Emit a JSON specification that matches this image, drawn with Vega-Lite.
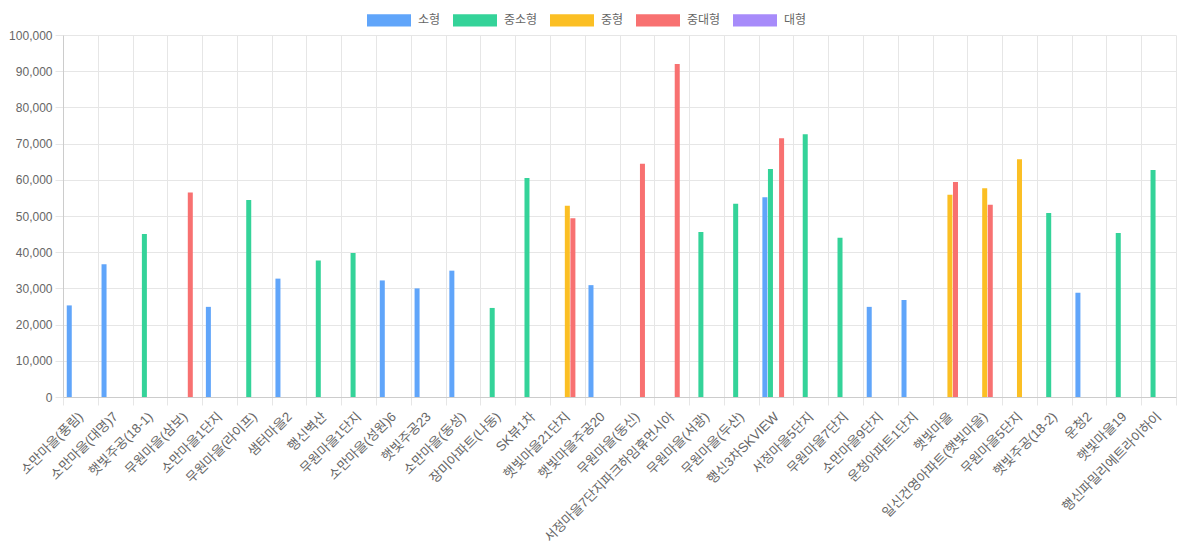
{
  "$schema": "https://vega.github.io/schema/vega-lite/v6.json",
  "width": 1113,
  "height": 362,
  "autosize": {"type": "none"},
  "padding": {"left": 63, "top": 35, "right": 1, "bottom": 153},
  "background": "white",
  "config": {
    "view": {"stroke": null},
    "font": "Liberation Sans, Noto Sans CJK KR, sans-serif",
    "axis": {
      "labelFont": "Liberation Sans, Noto Sans CJK KR, sans-serif",
      "labelFontSize": 12,
      "labelColor": "#666666",
      "gridColor": "#e6e6e6",
      "tickColor": "#e6e6e6",
      "domainColor": "#cccccc",
      "tickSize": 8,
      "title": null
    }
  },
  "data": {
    "values": [
      {"apt": "소만마을(풍림)", "type": "소형", "value": 25300},
      {"apt": "소만마을(대명)7", "type": "소형", "value": 36700},
      {"apt": "햇빛주공(18-1)", "type": "중소형", "value": 45000},
      {"apt": "무원마을(삼보)", "type": "중대형", "value": 56500},
      {"apt": "소만마을1단지", "type": "소형", "value": 24900},
      {"apt": "무원마을(라이프)", "type": "중소형", "value": 54400},
      {"apt": "샘터마을2", "type": "소형", "value": 32700},
      {"apt": "행신벽산", "type": "중소형", "value": 37700},
      {"apt": "무원마을1단지", "type": "중소형", "value": 39800},
      {"apt": "소만마을(성원)6", "type": "소형", "value": 32200},
      {"apt": "햇빛주공23", "type": "소형", "value": 30000},
      {"apt": "소만마을(동성)", "type": "소형", "value": 34900},
      {"apt": "장미아파트(나동)", "type": "중소형", "value": 24600},
      {"apt": "SK뷰1차", "type": "중소형", "value": 60500},
      {"apt": "햇빛마을21단지", "type": "중형", "value": 52800},
      {"apt": "햇빛마을21단지", "type": "중대형", "value": 49400},
      {"apt": "햇빛마을주공20", "type": "소형", "value": 30900},
      {"apt": "무원마을(동신)", "type": "중대형", "value": 64400},
      {"apt": "서정마을7단지파크하임휴먼시아", "type": "중대형", "value": 92000},
      {"apt": "무원마을(서광)", "type": "중소형", "value": 45600},
      {"apt": "무원마을(두산)", "type": "중소형", "value": 53400},
      {"apt": "행신3차SKVIEW", "type": "소형", "value": 55200},
      {"apt": "행신3차SKVIEW", "type": "중소형", "value": 63000},
      {"apt": "행신3차SKVIEW", "type": "중대형", "value": 71500},
      {"apt": "서정마을5단지", "type": "중소형", "value": 72600},
      {"apt": "무원마을7단지", "type": "중소형", "value": 44000},
      {"apt": "소만마을9단지", "type": "소형", "value": 24900},
      {"apt": "운청아파트1단지", "type": "소형", "value": 26800},
      {"apt": "햇빛마을", "type": "중형", "value": 55900},
      {"apt": "햇빛마을", "type": "중대형", "value": 59400},
      {"apt": "일신건영아파트(햇빛마을)", "type": "중형", "value": 57700},
      {"apt": "일신건영아파트(햇빛마을)", "type": "중대형", "value": 53100},
      {"apt": "무원마을5단지", "type": "중형", "value": 65700},
      {"apt": "햇빛주공(18-2)", "type": "중소형", "value": 50800},
      {"apt": "운청2", "type": "소형", "value": 28800},
      {"apt": "햇빛마을19", "type": "중소형", "value": 45300},
      {"apt": "행신파밀리에트라이하이", "type": "중소형", "value": 62700}
    ]
  },
  "mark": {"type": "bar"},
  "encoding": {
    "x": {
      "field": "apt",
      "type": "nominal",
      "sort": null,
      "scale": {"paddingInner": 0, "paddingOuter": 0},
      "axis": {
        "labelAngle": -45,
        "labelPadding": 5,
        "labelOffset": -4,
        "labelFontSize": 13.2,
        "labelLimit": 400,
        "tickBand": "extent",
        "grid": true,
        "labelOverlap": false
      }
    },
    "xOffset": {
      "field": "type",
      "type": "nominal",
      "scale": {
        "domain": ["소형", "중소형", "중형", "중대형", "대형"],
        "paddingInner": 0.1,
        "paddingOuter": 0.675
      }
    },
    "y": {
      "field": "value",
      "type": "quantitative",
      "scale": {"domain": [0, 100000], "nice": false},
      "axis": {
        "values": [0, 10000, 20000, 30000, 40000, 50000, 60000, 70000, 80000, 90000, 100000],
        "format": ",d",
        "grid": true,
        "labelPadding": 3
      }
    },
    "color": {
      "field": "type",
      "type": "nominal",
      "scale": {
        "domain": ["소형", "중소형", "중형", "중대형", "대형"],
        "range": ["#60a5fa", "#34d399", "#fbbf24", "#f87171", "#a78bfa"]
      },
      "legend": {
        "title": null,
        "orient": "none",
        "direction": "horizontal",
        "legendX": 304,
        "legendY": -37,
        "symbolType": "M-1,-0.28H1V0.28H-1Z",
        "symbolSize": 1936,
        "symbolStrokeWidth": 0,
        "symbolOpacity": 1,
        "labelFontSize": 12,
        "labelColor": "#666666",
        "labelOffset": 7,
        "columnPadding": 12
      }
    }
  }
}
